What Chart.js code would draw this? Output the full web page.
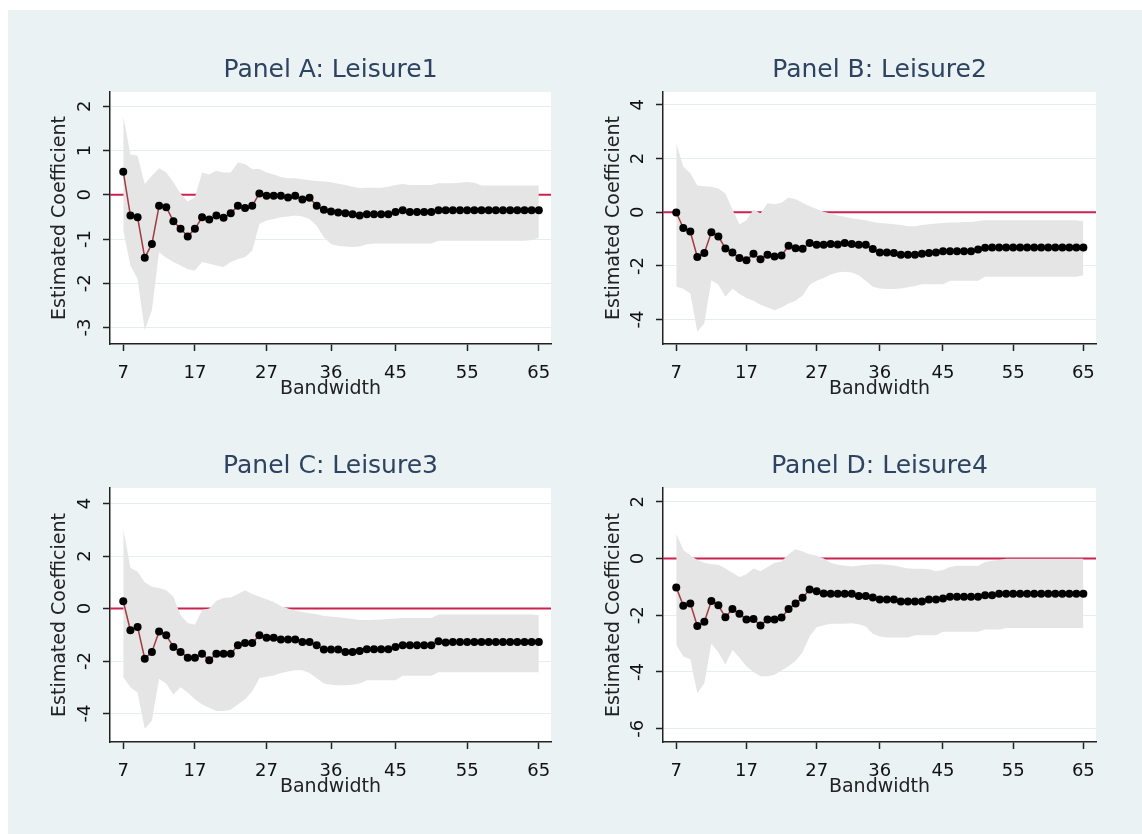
<!DOCTYPE html>
<html><head><meta charset="utf-8">
<script src="https://cdn.jsdelivr.net/npm/chart.js@4.4.1/dist/chart.umd.min.js"></script>
<style>
html,body{margin:0;padding:0;background:#fff;}
body{width:1142px;height:834px;position:relative;overflow:hidden;}
#bg{position:absolute;left:8px;top:10px;width:1134px;height:824px;background:#eaf2f3;}
.pc{position:absolute;}
.pc canvas{display:block;}
</style></head><body>
<div id="bg"></div>
<div class="pc" id="wA"><canvas id="cA"></canvas></div>
<div class="pc" id="wB"><canvas id="cB"></canvas></div>
<div class="pc" id="wC"><canvas id="cC"></canvas></div>
<div class="pc" id="wD"><canvas id="cD"></canvas></div>
<script>
// ---------- DATA ----------
const bandwidth = [7,8,9,10,11,12,13,14,15,16,17,18,19,20,21,22,23,24,25,26,27,28,29,30,31,32,33,34,35,36,
  37,38,39,40,41,42,43,44,45,46,47,48,49,50,51,52,53,54,55,56,57,58,59,60,61,62,63,64,65];
const xTickLabels = [7,17,27,36,45,55,65];
const xAxisTitle = 'Bandwidth';
const yAxisTitle = 'Estimated Coefficient';
const panelTitles = ['Panel A: Leisure1','Panel B: Leisure2','Panel C: Leisure3','Panel D: Leisure4'];

// Panel A
const estA = [0.52,-0.47,-0.51,-1.42,-1.11,-0.25,-0.28,-0.60,-0.77,-0.94,-0.77,-0.51,-0.56,-0.47,-0.52,-0.42,-0.25,-0.30,-0.25,0.03,
  -0.02,-0.02,-0.02,-0.06,-0.02,-0.11,-0.07,-0.25,-0.34,-0.38,-0.40,-0.42,-0.44,-0.47,-0.44,-0.44,-0.44,-0.44,-0.39,-0.35,
  -0.39,-0.39,-0.39,-0.39,-0.35,-0.35,-0.35,-0.35,-0.35,-0.35,-0.35,-0.35,-0.35,-0.35,-0.35,-0.35,-0.35,-0.35,-0.35];
const upA = [1.78,0.91,0.88,0.24,0.43,0.60,0.50,0.28,0.02,-0.15,-0.06,0.50,0.46,0.54,0.50,0.50,0.73,0.69,0.58,0.58,
  0.50,0.46,0.40,0.37,0.37,0.35,0.33,0.31,0.30,0.28,0.25,0.22,0.18,0.15,0.16,0.16,0.16,0.18,0.22,0.24,
  0.22,0.22,0.22,0.22,0.26,0.26,0.26,0.27,0.29,0.27,0.21,0.21,0.21,0.21,0.21,0.21,0.21,0.21,0.21];
const loA = [-0.81,-1.60,-1.90,-3.06,-2.60,-1.30,-1.42,-1.52,-1.60,-1.68,-1.71,-1.52,-1.56,-1.60,-1.63,-1.52,-1.45,-1.41,-1.26,-0.66,
  -0.58,-0.55,-0.51,-0.49,-0.47,-0.49,-0.55,-0.70,-0.96,-1.11,-1.15,-1.17,-1.18,-1.17,-1.12,-1.10,-1.10,-1.10,-1.10,-1.10,
  -1.10,-1.10,-1.10,-1.10,-1.04,-1.04,-1.04,-1.04,-1.04,-1.04,-1.04,-1.04,-1.04,-1.04,-1.04,-1.04,-1.04,-1.02,-0.97];
const yTicksA = [-3,-2,-1,0,1,2];

// Panel B
const estB = [-0.01,-0.59,-0.72,-1.67,-1.52,-0.75,-0.90,-1.35,-1.50,-1.71,-1.79,-1.55,-1.75,-1.58,-1.65,-1.61,-1.25,-1.34,-1.36,-1.15,
  -1.21,-1.21,-1.18,-1.20,-1.15,-1.18,-1.21,-1.21,-1.37,-1.50,-1.50,-1.52,-1.58,-1.58,-1.58,-1.55,-1.52,-1.50,-1.45,-1.45,
  -1.45,-1.45,-1.45,-1.39,-1.32,-1.31,-1.31,-1.31,-1.31,-1.31,-1.31,-1.31,-1.31,-1.31,-1.31,-1.31,-1.31,-1.31,-1.31];
const upB = [2.56,1.70,1.45,1.00,0.97,0.95,0.88,0.70,0.10,-0.45,-0.30,0.10,-0.05,0.33,0.30,0.35,0.55,0.48,0.35,0.22,
  0.12,0.02,-0.05,-0.12,-0.17,-0.22,-0.26,-0.30,-0.36,-0.40,-0.42,-0.45,-0.48,-0.52,-0.52,-0.48,-0.45,-0.42,-0.40,-0.38,
  -0.38,-0.36,-0.36,-0.33,-0.30,-0.30,-0.30,-0.30,-0.30,-0.30,-0.30,-0.30,-0.30,-0.30,-0.30,-0.30,-0.30,-0.30,-0.35];
const loB = [-2.78,-2.85,-3.03,-4.45,-4.14,-2.53,-2.70,-3.15,-2.84,-3.05,-3.20,-3.30,-3.45,-3.55,-3.65,-3.55,-3.40,-3.30,-3.10,-2.70,
  -2.55,-2.45,-2.32,-2.25,-2.22,-2.25,-2.35,-2.55,-2.78,-2.84,-2.86,-2.86,-2.84,-2.80,-2.75,-2.68,-2.68,-2.68,-2.68,-2.55,
  -2.55,-2.55,-2.55,-2.55,-2.40,-2.40,-2.40,-2.40,-2.40,-2.40,-2.40,-2.40,-2.40,-2.40,-2.40,-2.40,-2.40,-2.40,-2.35];
const yTicksB = [-4,-2,0,2,4];

// Panel C
const estC = [0.28,-0.83,-0.70,-1.91,-1.65,-0.87,-1.02,-1.46,-1.65,-1.87,-1.87,-1.72,-1.97,-1.72,-1.72,-1.72,-1.40,-1.31,-1.31,-1.02,
  -1.11,-1.11,-1.18,-1.18,-1.18,-1.27,-1.27,-1.40,-1.56,-1.56,-1.56,-1.65,-1.65,-1.62,-1.55,-1.55,-1.55,-1.55,-1.46,-1.40,
  -1.40,-1.40,-1.40,-1.40,-1.24,-1.29,-1.27,-1.27,-1.27,-1.27,-1.27,-1.27,-1.27,-1.27,-1.27,-1.27,-1.27,-1.27,-1.27];
const upC = [3.05,1.55,1.40,1.00,0.83,0.78,0.70,0.45,-0.25,-0.55,-0.62,-0.05,0.00,0.30,0.40,0.42,0.55,0.70,0.55,0.45,
  0.35,0.25,0.10,0.00,-0.08,-0.13,-0.18,-0.22,-0.28,-0.30,-0.33,-0.36,-0.40,-0.44,-0.44,-0.43,-0.42,-0.40,-0.38,-0.36,
  -0.36,-0.36,-0.36,-0.36,-0.23,-0.23,-0.23,-0.23,-0.23,-0.23,-0.23,-0.23,-0.23,-0.23,-0.23,-0.23,-0.23,-0.23,-0.25];
const loC = [-2.61,-3.00,-3.20,-4.58,-4.26,-2.67,-2.86,-3.27,-3.00,-3.20,-3.45,-3.65,-3.78,-3.90,-3.90,-3.85,-3.65,-3.45,-3.15,-2.65,
  -2.60,-2.55,-2.45,-2.40,-2.35,-2.35,-2.45,-2.65,-2.85,-2.90,-2.92,-2.92,-2.90,-2.85,-2.73,-2.73,-2.73,-2.73,-2.73,-2.56,
  -2.56,-2.56,-2.56,-2.56,-2.42,-2.42,-2.42,-2.42,-2.42,-2.42,-2.42,-2.42,-2.42,-2.42,-2.42,-2.42,-2.42,-2.42,-2.42];
const yTicksC = [-4,-2,0,2,4];

// Panel D
const estD = [-1.02,-1.66,-1.58,-2.38,-2.23,-1.50,-1.65,-2.07,-1.78,-1.95,-2.15,-2.13,-2.36,-2.15,-2.15,-2.08,-1.78,-1.58,-1.38,-1.09,
  -1.15,-1.23,-1.24,-1.24,-1.24,-1.24,-1.32,-1.32,-1.37,-1.44,-1.44,-1.44,-1.51,-1.51,-1.51,-1.51,-1.44,-1.44,-1.41,-1.35,
  -1.35,-1.35,-1.35,-1.35,-1.29,-1.29,-1.24,-1.24,-1.24,-1.24,-1.24,-1.24,-1.24,-1.24,-1.24,-1.24,-1.24,-1.24,-1.24];
const upD = [0.88,0.30,0.12,-0.05,-0.15,-0.20,-0.22,-0.35,-0.50,-0.65,-0.55,-0.35,-0.45,-0.30,-0.15,-0.10,0.15,0.33,0.25,0.15,
  0.10,0.00,-0.15,-0.22,-0.25,-0.28,-0.25,-0.22,-0.20,-0.20,-0.22,-0.24,-0.30,-0.35,-0.36,-0.36,-0.38,-0.45,-0.40,-0.30,
  -0.25,-0.25,-0.25,-0.25,-0.12,-0.08,-0.05,-0.01,-0.01,-0.01,-0.01,-0.01,-0.01,-0.01,-0.01,-0.01,-0.01,-0.01,-0.01];
const loD = [-3.04,-3.45,-3.55,-4.75,-4.40,-3.00,-3.30,-3.74,-3.22,-3.50,-3.80,-4.00,-4.15,-4.15,-4.10,-3.95,-3.80,-3.60,-3.30,-2.75,
  -2.42,-2.35,-2.30,-2.30,-2.30,-2.28,-2.32,-2.40,-2.65,-2.75,-2.78,-2.78,-2.78,-2.78,-2.70,-2.70,-2.70,-2.70,-2.58,-2.58,
  -2.58,-2.58,-2.58,-2.58,-2.50,-2.50,-2.50,-2.45,-2.45,-2.45,-2.45,-2.45,-2.45,-2.45,-2.45,-2.45,-2.45,-2.45,-2.45];
const yTicksD = [-6,-4,-2,0,2];

// Axis limits (data units)
const xLimitsAC = [5.15, 66.7];
const xLimitsBD = [5.11, 66.8];
const yLimitsA = [-3.37, 2.32];
const yLimitsB = [-4.91, 4.48];
const yLimitsC = [-5.08, 4.59];
const yLimitsD = [-6.47, 2.49];
const refLineValue = 0;

// ---------- LAYOUT ----------
const FONT = 'DejaVu Sans';
const padL = 90, padT = 52, padR = 29, padB = 76;
const yTitleSize = 19;

const plotBgPlugin = {
  id: 'plotBg',
  beforeDraw(chart) {
    const a = chart.chartArea, c = chart.ctx;
    c.save(); c.fillStyle = '#ffffff';
    c.fillRect(a.left, a.top, a.right - a.left, a.bottom - a.top);
    c.restore();
  }
};

function pts(xs, ys) { return xs.map((x, i) => ({x: x, y: ys[i]})); }

function makePanel(id, box, title, est, up, lo, yTicks, xLim, yLim) {
  const left = box.l - padL, top = box.t - padT;
  const w = Math.round(box.r + padR - left), h = Math.round(box.b + padB - top);
  const wrap = document.getElementById('w' + id);
  wrap.style.left = left + 'px'; wrap.style.top = top + 'px';
  wrap.style.width = w + 'px'; wrap.style.height = h + 'px';
  const cv = document.getElementById('c' + id);
  cv.width = w; cv.height = h;
  cv.style.width = w + 'px'; cv.style.height = h + 'px';
  const yTitlePad = padL - box.yTitleDist - yTitleSize * 1.2 / 2;
  new Chart(cv, {
    type: 'line',
    data: {
      datasets: [
        {data: pts(bandwidth, est), borderColor: '#a03a44', borderWidth: 1.5, pointRadius: 4,
         pointBackgroundColor: '#000', pointBorderColor: '#000', pointBorderWidth: 0, fill: false, tension: 0},
        {data: pts(bandwidth, up), borderColor: 'rgba(0,0,0,0)', borderWidth: 0, pointRadius: 0,
         fill: '+1', backgroundColor: '#e5e5e5', tension: 0},
        {data: pts(bandwidth, lo), borderColor: 'rgba(0,0,0,0)', borderWidth: 0, pointRadius: 0, fill: false, tension: 0},
        {data: [{x: xLim[0], y: refLineValue}, {x: xLim[1], y: refLineValue}], borderColor: '#cc2250',
         borderWidth: 2, pointRadius: 0, fill: false}
      ]
    },
    options: {
      responsive: false, animation: false, devicePixelRatio: 1,
      layout: {padding: {left: 0, right: padR, top: 0, bottom: 20}},
      plugins: {
        legend: {display: false}, tooltip: {enabled: false},
        title: {display: true, text: title, fullSize: false, color: '#2d4361',
                font: {family: FONT, size: 25, weight: 'normal'}, padding: {top: 15.7, bottom: 6.3}}
      },
      scales: {
        x: {
          type: 'linear', min: xLim[0], max: xLim[1],
          afterBuildTicks: s => { s.ticks = xTickLabels.map(v => ({value: v})); },
          afterFit: s => { s.height = 56; },
          grid: {drawOnChartArea: false, tickLength: 7, tickColor: '#222', tickWidth: 1.5},
          border: {display: true, color: '#222', width: 1.5},
          ticks: {font: {family: FONT, size: 18}, color: '#111', padding: 12, maxRotation: 0, minRotation: 0,
                  autoSkip: false, callback: v => String(v)},
          title: {display: true, text: xAxisTitle, color: '#222', font: {family: FONT, size: 19},
                  padding: {top: 0, bottom: 0}}
        },
        y: {
          type: 'linear', min: yLim[0], max: yLim[1],
          afterBuildTicks: s => { s.ticks = yTicks.map(v => ({value: v})); },
          afterFit: s => { s.width = padL; },
          grid: {color: '#e4eef0', lineWidth: 1, tickLength: 7, tickColor: '#222', tickWidth: 1.5},
          border: {display: true, color: '#222', width: 1.5},
          ticks: {font: {family: FONT, size: 18}, color: '#111', padding: 9, minRotation: 90, maxRotation: 90,
                  crossAlign: 'center', autoSkip: false, callback: v => String(v)},
          title: {display: true, text: yAxisTitle, color: '#222', font: {family: FONT, size: yTitleSize},
                  padding: {top: yTitlePad, bottom: 0}}
        }
      }
    },
    plugins: [plotBgPlugin]
  });
}

const boxA = {l: 110, r: 551, t: 92, b: 344, yTitleDist: 50};
const boxB = {l: 662.7, r: 1096, t: 91.7, b: 344, yTitleDist: 49};
const boxC = {l: 110, r: 551, t: 487.7, b: 741.7, yTitleDist: 50};
const boxD = {l: 662.7, r: 1096, t: 487.7, b: 741.7, yTitleDist: 49};

makePanel('A', boxA, panelTitles[0], estA, upA, loA, yTicksA, xLimitsAC, yLimitsA);
makePanel('B', boxB, panelTitles[1], estB, upB, loB, yTicksB, xLimitsBD, yLimitsB);
makePanel('C', boxC, panelTitles[2], estC, upC, loC, yTicksC, xLimitsAC, yLimitsC);
makePanel('D', boxD, panelTitles[3], estD, upD, loD, yTicksD, xLimitsBD, yLimitsD);
</script>
</body></html>
